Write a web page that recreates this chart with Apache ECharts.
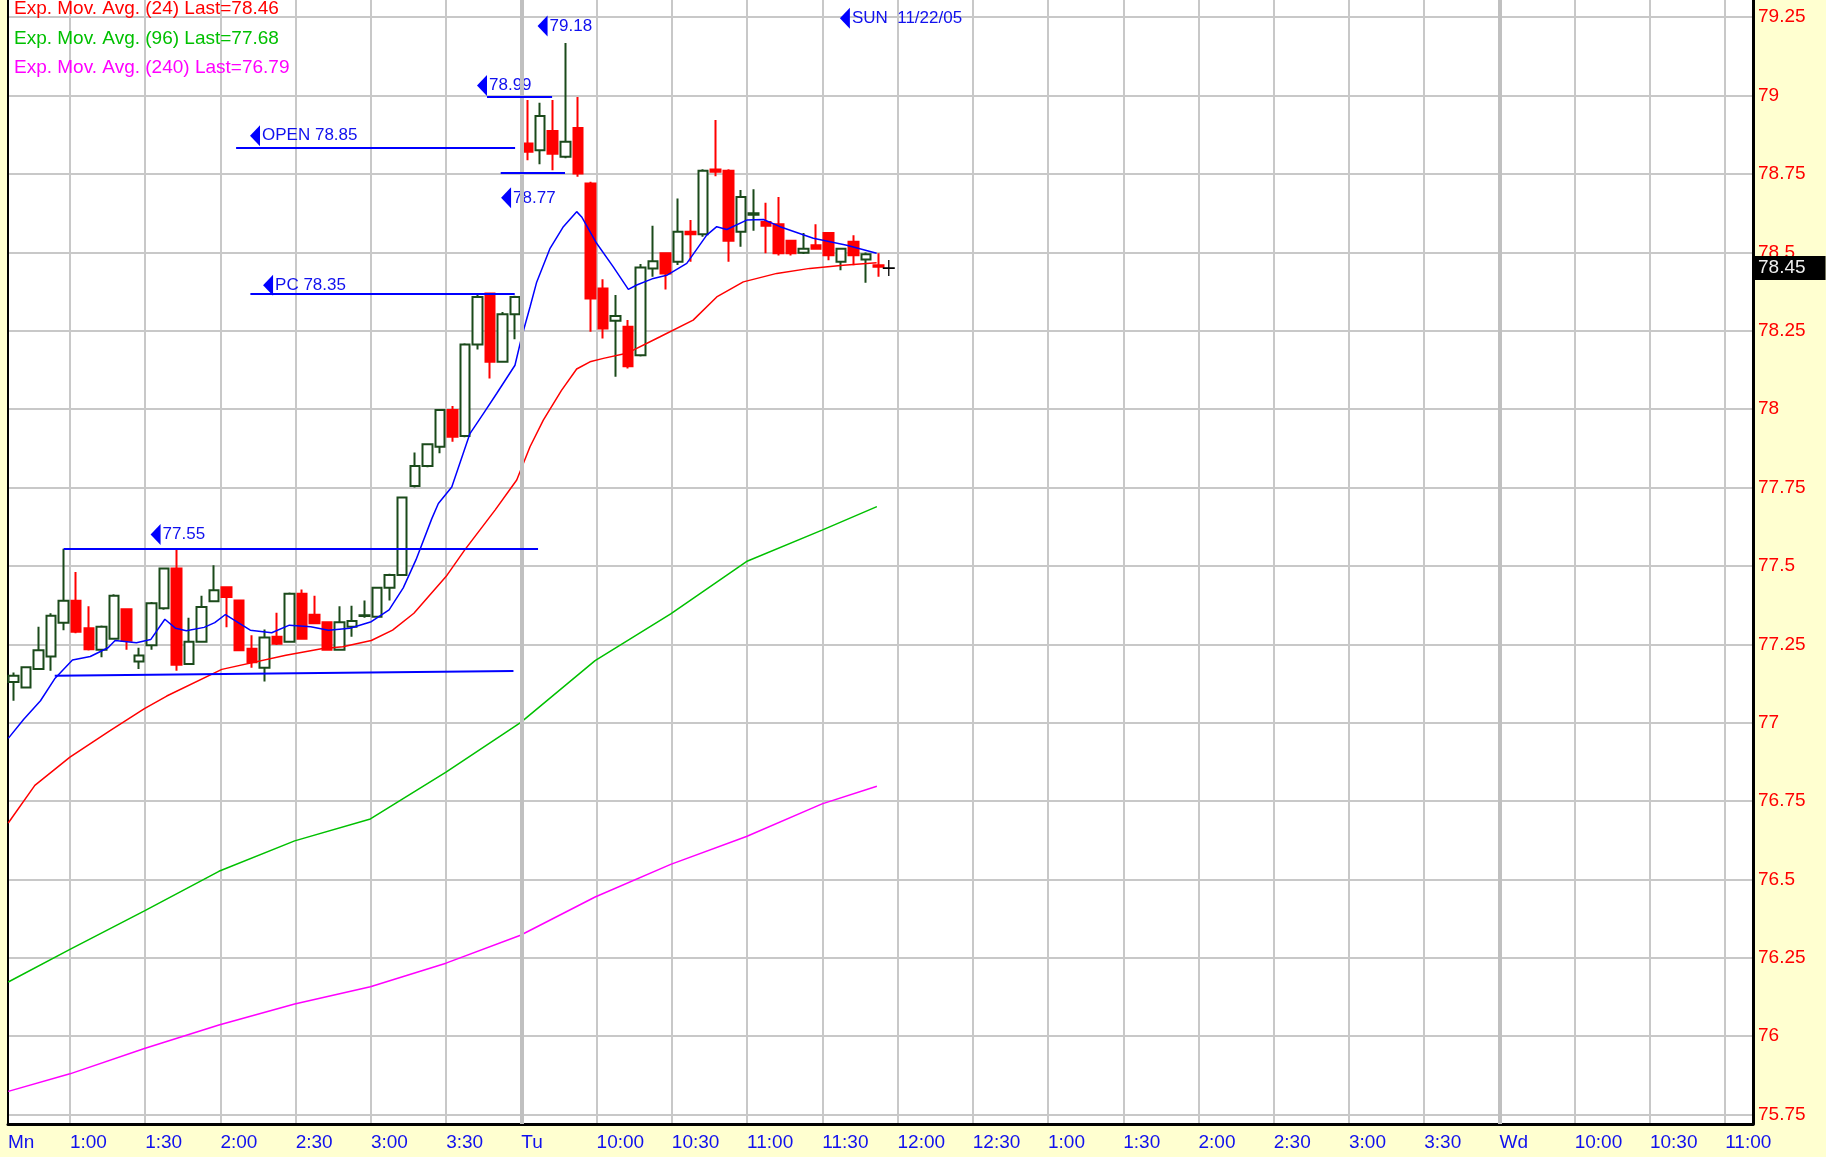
<!DOCTYPE html>
<html>
<head>
<meta charset="utf-8">
<script src="https://cdn.jsdelivr.net/npm/echarts@6/dist/echarts.min.js"></script>
<style>
  html, body { margin: 0; padding: 0; background: #ffffd0; }
  #chart { width: 1826px; height: 1157px; }
</style>
</head>
<body>
<div id="chart"></div>
<script>
// x runs in 5-minute slots, 0 = Monday 1:00 (session 9:30-16:00, so Mon 4:00 == Tue 9:30)
var xMin = -4.94, xMax = 134.22;
var yMin = 75.72, yMax = 79.305;

var xTicks = [0, 6, 12, 18, 24, 30, 36, 42, 48, 54, 60, 66, 72, 78, 84, 90, 96, 102, 108, 114, 120, 126, 132];
var xTickLabels = ['1:00', '1:30', '2:00', '2:30', '3:00', '3:30', 'Tu', '10:00', '10:30', '11:00', '11:30',
  '12:00', '12:30', '1:00', '1:30', '2:00', '2:30', '3:00', '3:30', 'Wd', '10:00', '10:30', '11:00'];
var firstLabel = 'Mn';
var yTicks = [75.75, 76, 76.25, 76.5, 76.75, 77, 77.25, 77.5, 77.75, 78, 78.25, 78.5, 78.75, 79, 79.25];
var sessionBreaks = [36, 114];

// 5-minute bars from Mon 12:35, [open, close, low, high]
var firstBar = -5;
var bars = [
  [77.13, 77.15, 77.07, 77.16], [77.112, 77.177, 77.11, 77.18], [77.171, 77.231, 77.168, 77.306],
  [77.211, 77.341, 77.166, 77.349], [77.319, 77.389, 77.295, 77.555], [77.389, 77.29, 77.285, 77.481],
  [77.301, 77.234, 77.23, 77.371], [77.233, 77.306, 77.209, 77.31], [77.268, 77.405, 77.265, 77.41],
  [77.362, 77.261, 77.233, 77.365], [77.195, 77.214, 77.171, 77.239], [77.247, 77.381, 77.233, 77.385],
  [77.365, 77.492, 77.36, 77.495], [77.492, 77.185, 77.166, 77.555], [77.187, 77.258, 77.185, 77.335],
  [77.258, 77.369, 77.255, 77.405], [77.387, 77.422, 77.385, 77.502], [77.432, 77.401, 77.304, 77.435],
  [77.39, 77.231, 77.228, 77.392], [77.236, 77.193, 77.175, 77.279], [77.175, 77.272, 77.131, 77.297],
  [77.274, 77.252, 77.248, 77.351], [77.258, 77.411, 77.255, 77.415], [77.411, 77.268, 77.265, 77.425],
  [77.344, 77.317, 77.315, 77.405], [77.32, 77.233, 77.23, 77.322], [77.233, 77.32, 77.23, 77.371],
  [77.306, 77.324, 77.274, 77.373], [77.34, 77.343, 77.335, 77.39], [77.338, 77.43, 77.335, 77.432],
  [77.43, 77.471, 77.39, 77.475], [77.471, 77.718, 77.468, 77.72], [77.755, 77.819, 77.75, 77.862],
  [77.819, 77.888, 77.815, 77.89], [77.88, 77.997, 77.859, 78.0], [77.997, 77.912, 77.896, 78.01],
  [77.914, 78.206, 77.91, 78.21], [78.206, 78.358, 78.19, 78.369], [78.369, 78.151, 78.098, 78.372],
  [78.151, 78.303, 78.148, 78.31], [78.303, 78.358, 78.223, 78.362],
  // Tuesday
  [78.847, 78.821, 78.794, 78.986], [78.826, 78.935, 78.781, 78.977], [78.887, 78.815, 78.762, 78.986],
  [78.805, 78.853, 78.80, 79.168], [78.897, 78.752, 78.741, 78.996], [78.72, 78.353, 78.247, 78.725],
  [78.385, 78.257, 78.225, 78.414], [78.282, 78.297, 78.103, 78.364], [78.263, 78.137, 78.13, 78.284],
  [78.172, 78.452, 78.168, 78.463], [78.449, 78.472, 78.422, 78.585], [78.497, 78.433, 78.382, 78.50],
  [78.47, 78.566, 78.46, 78.672], [78.566, 78.558, 78.47, 78.603], [78.558, 78.76, 78.55, 78.765],
  [78.764, 78.757, 78.743, 78.922], [78.76, 78.537, 78.47, 78.765], [78.566, 78.677, 78.518, 78.699],
  [78.62, 78.625, 78.569, 78.701], [78.597, 78.585, 78.497, 78.658], [78.59, 78.497, 78.49, 78.677],
  [78.537, 78.497, 78.49, 78.54], [78.499, 78.512, 78.495, 78.562], [78.523, 78.512, 78.51, 78.59],
  [78.562, 78.491, 78.475, 78.565], [78.47, 78.512, 78.443, 78.515], [78.534, 78.491, 78.459, 78.555],
  [78.477, 78.494, 78.403, 78.50], [78.459, 78.454, 78.422, 78.497]
];

// moving averages, [slot, value]
var emaFast = [[-4.92, 76.95], [-3.7, 77.01], [-2.35, 77.07], [-1.22, 77.14], [0.2, 77.2], [1.62, 77.211],
  [3.04, 77.239], [3.6, 77.262], [5.3, 77.255], [6.44, 77.265], [7.57, 77.33], [8.43, 77.301], [9.28, 77.293],
  [10.7, 77.304], [11.55, 77.319], [12.4, 77.345], [14.38, 77.295], [16.09, 77.287], [17.5, 77.311],
  [19.2, 77.306], [20.62, 77.295], [22.33, 77.301], [24.03, 77.322], [25.45, 77.36], [26.58, 77.43],
  [27.6, 77.52], [28.85, 77.65], [29.38, 77.699], [30.45, 77.752], [31.9, 77.922], [32.97, 77.986],
  [34.03, 78.05], [35.49, 78.14], [36.03, 78.231], [36.69, 78.326], [37.22, 78.405], [38.29, 78.513],
  [39.35, 78.582], [40.41, 78.63], [40.81, 78.613], [42.0, 78.529], [43.33, 78.454], [44.53, 78.382],
  [45.2, 78.396], [46.53, 78.417], [47.59, 78.427], [49.19, 78.465], [50.78, 78.555], [51.58, 78.582],
  [52.38, 78.573], [53.97, 78.603], [55.3, 78.605], [56.63, 78.582], [59.28, 78.545], [61.95, 78.523],
  [64.33, 78.497]];
var ema24 = [[-4.92, 76.68], [-2.8, 76.80], [0, 76.89], [3.2, 76.975], [5.94, 77.045], [7.72, 77.085],
  [12.11, 77.17], [17.22, 77.215], [20.06, 77.236], [21.76, 77.242], [24.03, 77.262], [25.73, 77.295],
  [27.43, 77.349], [29.99, 77.466], [31.5, 77.552], [33.9, 77.678], [35.63, 77.774], [36.69, 77.88],
  [37.75, 77.965], [39.2, 78.06], [40.41, 78.128], [41.47, 78.151], [42.54, 78.162], [44.4, 78.178],
  [47.06, 78.231], [49.7, 78.284], [51.58, 78.358], [53.7, 78.406], [56.37, 78.433], [59.0, 78.449],
  [61.67, 78.459], [64.33, 78.467]];
var ema96 = [[-4.92, 76.173], [0, 76.277], [5.94, 76.4], [11.88, 76.526], [17.92, 76.623], [23.96, 76.693],
  [29.99, 76.842], [35.93, 77.0], [41.88, 77.198], [47.91, 77.347], [53.95, 77.514], [59.98, 77.614],
  [64.35, 77.689]];
var ema240 = [[-4.92, 75.824], [0, 75.88], [5.94, 75.961], [11.88, 76.036], [17.92, 76.103], [23.96, 76.158],
  [29.99, 76.233], [35.93, 76.322], [41.88, 76.444], [47.91, 76.548], [53.95, 76.637], [59.98, 76.741],
  [64.35, 76.797]];

var emaNames = ['Exp. Mov. Avg. (24)', 'Exp. Mov. Avg. (96)', 'Exp. Mov. Avg. (240)'];
var emaLast = ['78.46', '77.68', '76.79'];
var emaColors = ['#ff0000', '#00c000', '#ff00ff'];

// drawn levels [slot1, price1, slot2, price2]
var levels = [
  [-0.5, 77.555, 37.33, 77.555],
  [-1.21, 77.15, 35.37, 77.165],
  [14.39, 78.368, 35.47, 78.368],
  [13.25, 78.835, 35.5, 78.835],
  [33.26, 78.996, 38.45, 78.996],
  [34.35, 78.754, 39.48, 78.754]
];
// arrow tags [slot, price, text]
var tags = [
  [37.69, 79.222, '79.18'],
  [32.86, 79.032, '78.99'],
  [14.76, 78.872, 'OPEN 78.85'],
  [34.78, 78.674, '78.77'],
  [15.8, 78.395, 'PC 78.35'],
  [6.83, 77.6, '77.55'],
  [61.8, 79.247, 'SUN  11/22/05']
];
var lastPrice = 78.45;
var cursorSlot = 65.3;

var FONT = 'Liberation Sans, Arial, sans-serif';

var xLabelMap = {};
xLabelMap[xMin] = firstLabel;
xTicks.forEach(function (t, i) { xLabelMap[t] = xTickLabels[i]; });

var candleData = bars.map(function (b, i) {
  return [firstBar + i + 0.5, b[0], b[1], b[2], b[3]];
});

var chart = echarts.init(document.getElementById('chart'));

var option = {
  backgroundColor: '#ffffd0',
  animation: false,
  grid: {
    left: 8, right: 73, top: 0, bottom: 33,
    show: true, backgroundColor: '#ffffff', borderWidth: 0
  },
  legend: {
    data: emaNames.map(function (n, i) { return { name: n, textStyle: { color: emaColors[i] } }; }),
    orient: 'vertical',
    left: 9, top: -2,
    padding: 0,
    itemWidth: 0, itemHeight: 22, itemGap: 7.5,
    icon: 'rect',
    selectedMode: false,
    formatter: function (name) { return name + ' Last=' + emaLast[emaNames.indexOf(name)]; },
    textStyle: { fontSize: 19, fontFamily: FONT }
  },
  xAxis: {
    type: 'value',
    min: xMin, max: xMax,
    axisLine: { show: true, onZero: false, lineStyle: { color: '#000', width: 3 } },
    axisTick: { show: false, customValues: xTicks },
    axisLabel: {
      customValues: [xMin].concat(xTicks),
      formatter: function (v) { return xLabelMap[v] || ''; },
      color: '#1010ee', fontSize: 19, fontFamily: FONT,
      align: 'left', margin: 9
    },
    splitLine: { show: true, lineStyle: { color: '#c8c8c8', width: 2 } }
  },
  yAxis: [{
    type: 'value',
    position: 'right',
    min: yMin, max: yMax,
    axisLine: { show: true, onZero: false, lineStyle: { color: '#000', width: 3 } },
    axisTick: { show: false, customValues: yTicks },
    axisLabel: {
      customValues: yTicks,
      color: '#ff0000', fontSize: 19, fontFamily: FONT, margin: 5
    },
    splitLine: { show: true, lineStyle: { color: '#c8c8c8', width: 2 } }
  }, {
    type: 'value',
    position: 'left',
    min: yMin, max: yMax,
    axisLine: { show: true, onZero: false, lineStyle: { color: '#000', width: 2 } },
    axisTick: { show: false },
    axisLabel: { show: false },
    splitLine: { show: false }
  }],
  series: [
    {
      name: 'sessions',
      type: 'line',
      data: [],
      z: 1,
      markLine: {
        silent: true, symbol: ['none', 'none'], label: { show: false },
        lineStyle: { color: '#c0c0c0', width: 4, type: 'solid' },
        data: sessionBreaks.map(function (s) { return { xAxis: s }; })
      }
    },
    {
      name: 'price',
      type: 'candlestick',
      data: candleData,
      encode: { x: 0, y: [1, 2, 3, 4] },
      barWidth: 10,
      z: 2,
      itemStyle: {
        color: '#ffffff', borderColor: '#1b4a1b',
        color0: '#ff0000', borderColor0: '#ff0000',
        borderWidth: 2
      },
      markLine: {
        silent: true, symbol: ['none', 'none'], label: { show: false },
        lineStyle: { color: '#0000ff', width: 2, type: 'solid' },
        data: levels.map(function (l) { return [{ coord: [l[0], l[1]] }, { coord: [l[2], l[3]] }]; })
      }
    },
    {
      name: 'Exp. Mov. Avg. (fast)',
      type: 'line', data: emaFast, symbol: 'none', z: 3,
      lineStyle: { color: '#0000ff', width: 1.5 }
    },
    {
      name: emaNames[0],
      type: 'line', data: ema24, symbol: 'none', z: 3,
      itemStyle: { color: emaColors[0] },
      lineStyle: { color: emaColors[0], width: 1.5 }
    },
    {
      name: emaNames[1],
      type: 'line', data: ema96, symbol: 'none', z: 3,
      itemStyle: { color: emaColors[1] },
      lineStyle: { color: emaColors[1], width: 1.5 }
    },
    {
      name: emaNames[2],
      type: 'line', data: ema240, symbol: 'none', z: 3,
      itemStyle: { color: emaColors[2] },
      lineStyle: { color: emaColors[2], width: 1.5 }
    },
    {
      name: 'tags',
      type: 'scatter',
      data: tags,
      z: 4,
      symbol: 'path://M10,0L0,10.5L10,21Z',
      symbolSize: [10, 21],
      itemStyle: { color: '#0000ff', opacity: 1 },
      label: {
        show: true, position: 'right', distance: 2,
        formatter: function (p) { return p.data[2]; },
        color: '#1010ee', fontSize: 17, fontFamily: FONT
      }
    },
    {
      name: 'cursor',
      type: 'scatter',
      data: [[cursorSlot, lastPrice]],
      z: 5,
      symbol: 'path://M6,0L6,16M0,8L12,8',
      symbolSize: [12, 16],
      itemStyle: { color: 'rgba(0,0,0,0)', borderColor: '#000', borderWidth: 1.5, opacity: 1 }
    },
    {
      name: 'last',
      type: 'scatter',
      data: [[xMax, lastPrice]],
      symbolSize: 0,
      clip: false,
      z: 6,
      itemStyle: { opacity: 1 },
      label: {
        show: true, position: 'right', distance: 2,
        formatter: function () { return lastPrice.toFixed(2); },
        backgroundColor: '#000000', color: '#eeeeee', opacity: 1,
        fontSize: 19, fontFamily: FONT,
        padding: [3, 20, 2, 3]
      }
    }
  ]
};

chart.setOption(option);
</script>
</body>
</html>
